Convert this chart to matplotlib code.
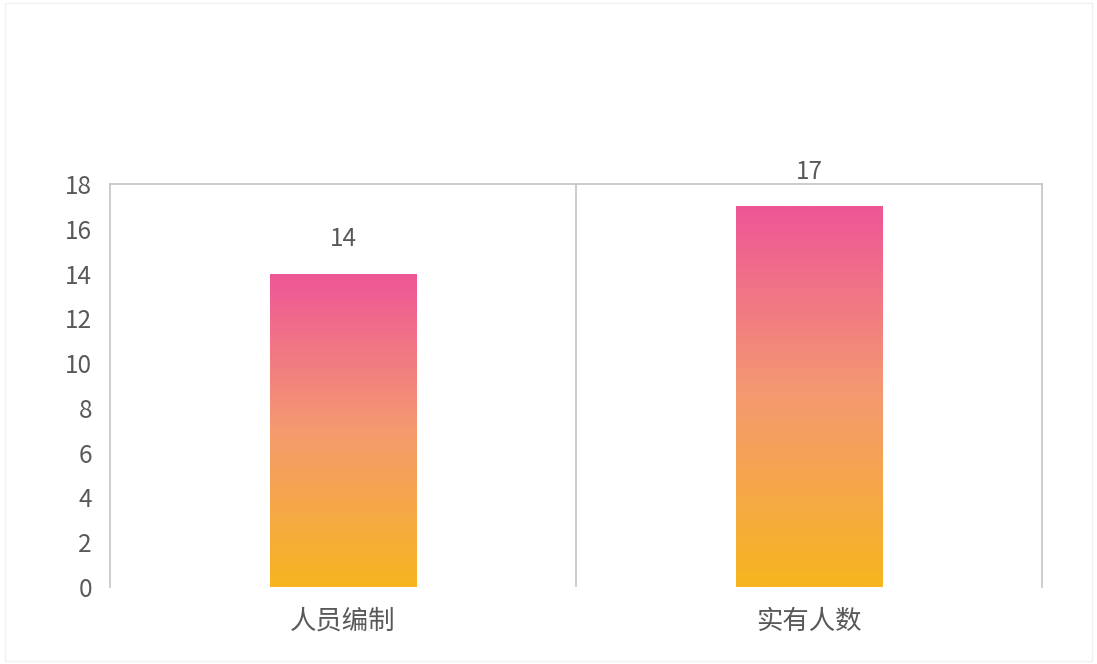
import numpy as np
import matplotlib.pyplot as plt
from matplotlib.colors import LinearSegmentedColormap
from matplotlib.patches import Rectangle

plt.rcParams["font.family"] = ["Noto Sans CJK SC", "DejaVu Sans"]

categories = ["人员编制", "实有人数"]
values = [14, 17]
yticks = [0, 2, 4, 6, 8, 10, 12, 14, 16, 18]

text_color = "#595959"
line_color = "#BFBFBF"
grad = LinearSegmentedColormap.from_list("grad", ["#F7B51F", "#F49A70", "#EE5697"])

fig = plt.figure(figsize=(10.97, 6.64), dpi=100)
ax = fig.add_axes([110 / 1097, 1 - 587 / 664, 932 / 1097, 403 / 664])

x = np.arange(len(categories))
bars = ax.bar(x, values, width=0.315, color="none", edgecolor="none")

# gradient fill, pink on top, orange at the bottom of each bar
g = np.linspace(0, 1, 256).reshape(-1, 1)
for b, v in zip(bars, values):
    x0, y0 = b.get_x(), b.get_y()
    w, h = b.get_width(), b.get_height()
    im = ax.imshow(g, cmap=grad, origin="lower", aspect="auto",
                   extent=[x0, x0 + w, y0, y0 + h], zorder=2)
    im.set_clip_path(b)
    ax.text(x0 + w / 2, h + 1.55, f"{v}",
            ha="center", va="center", fontsize=17.5, color=text_color)

ax.set_xlim(-0.5, len(categories) - 0.5)
ax.set_ylim(0, 18)
ax.set_yticks(yticks)
ax.set_xticks(x)
ax.set_xticklabels(categories, fontsize=19, color=text_color)
ax.tick_params(axis="y", length=0, labelsize=17.5, labelcolor=text_color, pad=13)
ax.tick_params(axis="x", length=0, pad=15)

# category separators
for sep in np.arange(0.5, len(categories) - 0.5):
    ax.axvline(sep, color=line_color, linewidth=1.1, zorder=1)

for side in ["left", "top", "right"]:
    ax.spines[side].set_color(line_color)
    ax.spines[side].set_linewidth(1.1)
ax.spines["bottom"].set_visible(False)

# faint outer frame
fig.patches.append(Rectangle((0.005, 0.005), 0.99, 0.99, transform=fig.transFigure,
                             fill=False, edgecolor="#F0F0F0", linewidth=1))

fig.savefig("out.png", dpi=100)
